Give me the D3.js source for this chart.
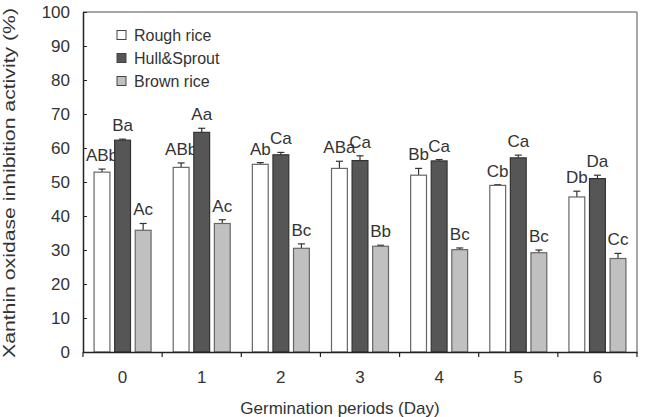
<!DOCTYPE html>
<html><head><meta charset="utf-8">
<script src="https://cdn.jsdelivr.net/npm/d3@7"></script>
<style>body{margin:0;background:#fff}svg{font-family:"Liberation Sans",Arial,sans-serif}</style>
</head><body><svg id="c" width="649" height="417"></svg>
<script>
const days = ["0","1","2","3","4","5","6"];
const seriesNames = ["Rough rice","Hull&Sprout","Brown rice"];
const rough = [52.9, 54.3, 55.2, 54.0, 52.0, 49.0, 45.6];
const hull = [62.3, 64.6, 58.0, 56.3, 56.2, 57.1, 51.0];
const brown = [35.8, 37.8, 30.5, 31.1, 30.1, 29.2, 27.5];
const roughErr = [0.9, 1.3, 0.5, 2.1, 2.0, 0.2, 1.7];
const hullErr = [0.3, 1.2, 0.7, 1.4, 0.4, 0.8, 1.0];
const brownErr = [2.0, 1.1, 1.3, 0.3, 0.5, 0.8, 1.5];
const roughLbl = ["ABb","ABb","Ab","ABa","Bb","Cb","Db"];
const hullLbl = ["Ba","Aa","Ca","Ca","Ca","Ca","Da"];
const brownLbl = ["Ac","Ac","Bc","Bb","Bc","Bc","Cc"];
const yTicks = [0,10,20,30,40,50,60,70,80,90,100];

const series = [
  {name: seriesNames[0], vals: rough, err: roughErr, lbl: roughLbl, fill:"#ffffff", stroke:"#666"},
  {name: seriesNames[1], vals: hull, err: hullErr, lbl: hullLbl, fill:"#565656", stroke:"#333"},
  {name: seriesNames[2], vals: brown, err: brownErr, lbl: brownLbl, fill:"#c0c0c0", stroke:"#666"}
];

const svg = d3.select("#c");
const L=83, R=637, T=12, B=352;
const FS = 17;
const x = d3.scaleBand().domain(days).range([L,R]);
const y = d3.scaleLinear().domain([0,100]).range([B,T]);
const xs = d3.scaleBand().domain(d3.range(3)).range([-28.5,28.5]).paddingInner(0.23);

// frame top/right
svg.append("line").attr("x1",L).attr("x2",R).attr("y1",T).attr("y2",T).attr("stroke","#888").attr("stroke-width",1.5);
svg.append("line").attr("x1",R).attr("x2",R).attr("y1",T).attr("y2",B).attr("stroke","#888").attr("stroke-width",1.5);

// bars
series.forEach((s,i)=>{
  const g = svg.append("g");
  days.forEach((d,j)=>{
    const cx = x(d)+x.bandwidth()/2;
    const bx = cx + xs(i);
    const bw = xs.bandwidth();
    const top = y(s.vals[j]);
    const et = y(s.vals[j]+s.err[j]);
    const mid = bx+bw/2;
    g.append("line").attr("x1",mid).attr("x2",mid).attr("y1",top).attr("y2",et).attr("stroke","#333").attr("stroke-width",1.2);
    g.append("line").attr("x1",mid-3.5).attr("x2",mid+3.5).attr("y1",et).attr("y2",et).attr("stroke","#333").attr("stroke-width",1.2);
    g.append("rect").attr("x",bx).attr("y",top).attr("width",bw).attr("height",B-top)
      .attr("fill",s.fill).attr("stroke",s.stroke).attr("stroke-width",1.2);
    g.append("text").attr("x",mid).attr("y",et-8).attr("text-anchor","middle")
      .attr("font-size",FS).attr("fill","#333").text(s.lbl[j]);
  });
});

// y axis
const ya = svg.append("g").attr("transform",`translate(${L},0)`)
  .call(d3.axisLeft(y).tickValues(yTicks).tickSizeInner(-4).tickSizeOuter(0).tickPadding(13));
ya.select(".domain").attr("stroke","#222").attr("stroke-width",1.5);
ya.selectAll(".tick line").attr("stroke","#222");
ya.selectAll("text").attr("font-size",FS).attr("fill","#333").attr("font-family","Liberation Sans, Arial, sans-serif");

// x axis
const xa = svg.append("g").attr("transform",`translate(0,${B})`)
  .call(d3.axisBottom(x).tickSize(0).tickPadding(19));
xa.select(".domain").attr("stroke","#222").attr("stroke-width",1.5);
xa.selectAll("text").attr("font-size",FS).attr("fill","#333").attr("font-family","Liberation Sans, Arial, sans-serif");
days.slice(1).forEach(d=>{
  svg.append("line").attr("x1",x(d)).attr("x2",x(d)).attr("y1",B).attr("y2",B+5).attr("stroke","#222").attr("stroke-width",1.2);
});
[L,R].forEach(px=>svg.append("line").attr("x1",px).attr("x2",px).attr("y1",B).attr("y2",B+5).attr("stroke","#222").attr("stroke-width",1.2));

// titles
svg.append("text").attr("x",340).attr("y",414).attr("text-anchor","middle")
  .attr("font-size",FS).attr("fill","#333").text("Germination periods (Day)");
svg.append("text").attr("transform",`translate(15,183) rotate(-90)`).attr("text-anchor","middle")
  .attr("font-size",16.5).attr("textLength",350).attr("lengthAdjust","spacingAndGlyphs")
  .attr("fill","#333").text("Xanthin oxidase inhibition activity (%)");

// legend
series.forEach((s,i)=>{
  const ly = 35 + i*23;
  svg.append("rect").attr("x",117).attr("y",ly-4.5).attr("width",9).attr("height",9)
    .attr("fill",s.fill).attr("stroke","#444").attr("stroke-width",1);
  svg.append("text").attr("x",134).attr("y",ly+6).attr("font-size",16).attr("fill","#333").text(s.name);
});
</script></body></html>
